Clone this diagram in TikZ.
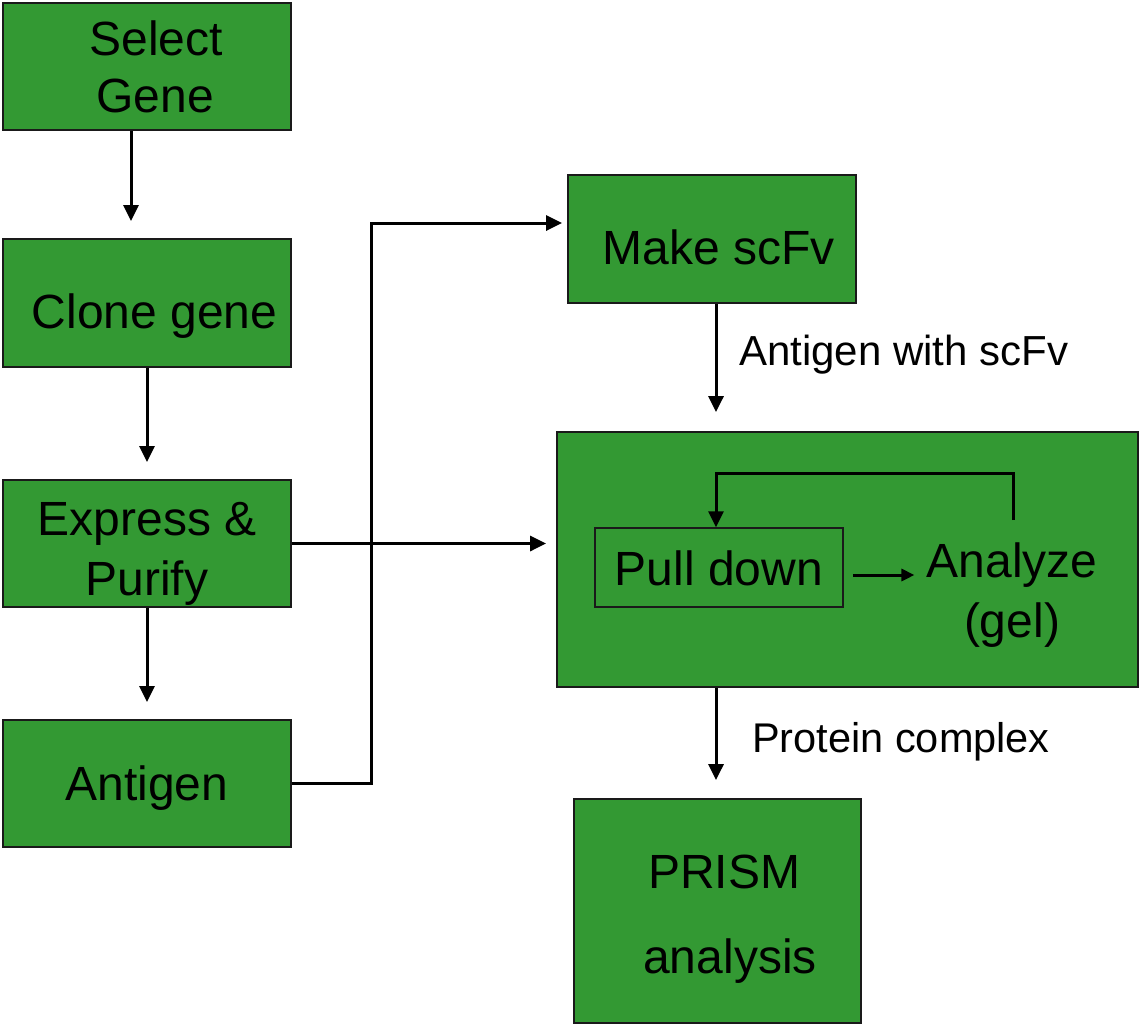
\documentclass[tikz,border=0pt]{standalone}
\usepackage{fontspec}
\setmainfont{Liberation Sans}
\usetikzlibrary{arrows.meta,calc}
\definecolor{boxgreen}{HTML}{339933}
\definecolor{edge}{HTML}{1A1A1A}
\tikzset{
  box/.style={draw=edge, line width=1.8pt, fill=boxgreen, inner sep=0pt, align=center,
    font=\fontsize{48}{57}\selectfont},
  inbox/.style={draw=edge, line width=1.5pt, fill=boxgreen, inner sep=0pt, align=center,
    font=\fontsize{48}{57}\selectfont},
  down/.style={text height=#1, text depth=0pt},
  up/.style={text height=0pt, text depth=#1},
  arr/.style={line width=3pt, -{Triangle[length=16pt,width=15pt]}},
  arrsmall/.style={line width=3pt, -{Triangle[length=13pt,width=12pt]}},
  lbl/.style={anchor=base west, inner sep=0pt},
}
\begin{document}
\begin{tikzpicture}[x=1pt,y=-1pt]
\useasboundingbox (0,0) rectangle (1139,1026);

% left column
\node[box, down=91pt, minimum width=288pt, minimum height=127pt] (sel) at (147,66.5)
  {\hspace*{18pt}Select\\\hspace*{16pt}Gene};
\node[box, down=50pt, minimum width=288pt, minimum height=128pt] (clone) at (147,303)
  {\hspace*{15pt}Clone gene};
\node[box, down=103pt, minimum width=288pt, minimum height=127pt] (expr) at (147,543.5)
  {Express \&\\[3pt]Purify};
\node[box, down=33pt, minimum width=288pt, minimum height=127pt] (anti) at (147,783.5)
  {Antigen};

% right column
\node[box, down=50pt, minimum width=288pt, minimum height=128pt] (scfv) at (712,239)
  {\hspace*{14pt}Make scFv};
\node[box, minimum width=581pt, minimum height=255pt] (big) at (847.5,559.5) {};
\node[inbox, down=35pt, minimum width=248pt, minimum height=79pt] (pull) at (719,567.5)
  {Pull down};
\node[align=center, inner sep=0pt, text height=0pt, text depth=0pt,
  font=\fontsize{48}{57}\selectfont] (ana) at (1012,637) {Analyze\\[3pt](gel)};
\node[box, down=124pt, minimum width=287pt, minimum height=224pt] (prism) at (717.5,911)
  {\hspace*{13pt}PRISM\\[28pt]\hspace*{25pt}analysis};

% helper coordinates
\coordinate (x131) at (131,0);
\coordinate (x716) at (716,0);
\coordinate (bend) at (371,223);
\coordinate (fb) at (1013,520);
\coordinate (fbtop) at (716,473);

% left arrows
\draw[arr, shorten >=17pt] (sel.south -| x131) -- (clone.north -| x131);
\draw[arr, shorten >=17pt] (clone.south) -- (expr.north);
\draw[arr, shorten >=17pt] (expr.south) -- (anti.north);

% connectors to the right
\draw[arr, shorten >=5pt] (anti.east) -| (bend) -- (bend -| scfv.west);
\draw[arr, shorten >=10pt] (expr.east) -- (expr.east -| big.west);

% right arrows
\draw[arr, shorten >=19pt] (scfv.south -| x716) -- (big.north -| x716);
\node[lbl, font=\fontsize{42}{50}\selectfont] (lab1) at (739,365) {Antigen with scFv};
\draw[arr, shorten >=18pt] (big.south -| x716) -- (prism.north -| x716);
\node[lbl, font=\fontsize{41.5}{50}\selectfont] (lab2) at (752,752) {Protein complex};

% inner arrows
\draw[arrsmall, shorten <=9pt, shorten >=12pt] ([yshift=-7.5pt]pull.east) -- ([yshift=-7.5pt]pull.east -| ana.west);
\draw[arr] (fb) |- (fbtop) -- (fbtop |- pull.north);
\end{tikzpicture}
\end{document}
